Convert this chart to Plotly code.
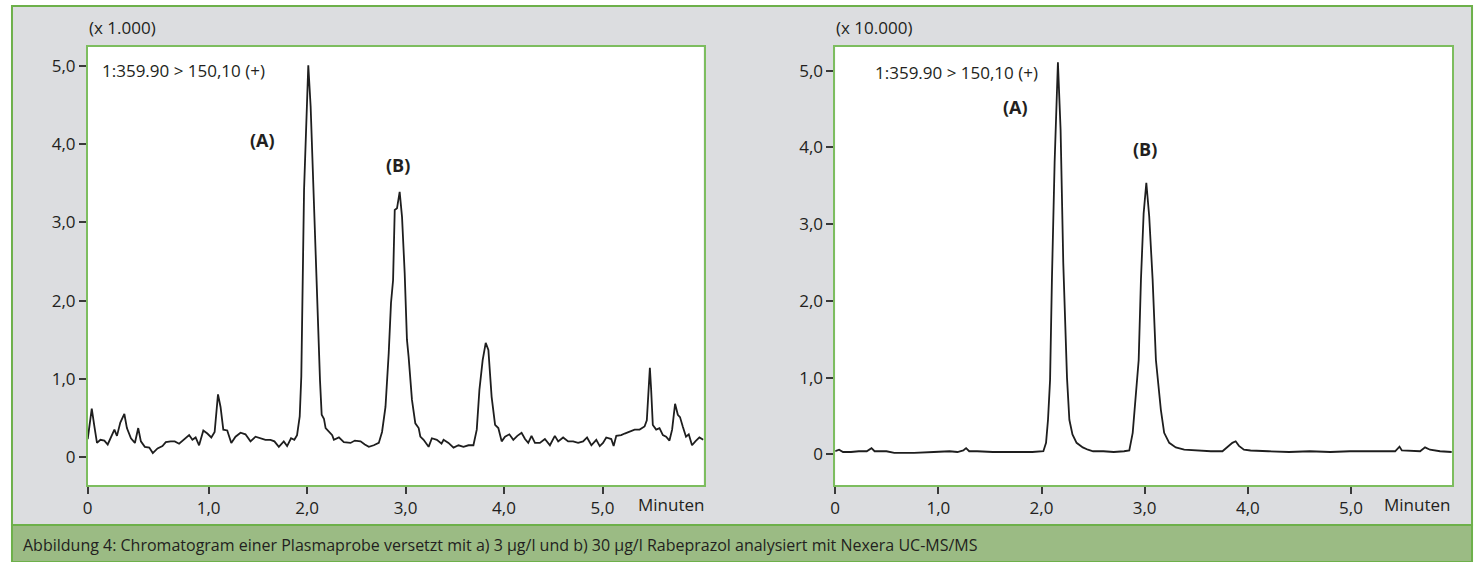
import plotly.graph_objects as go

# ---- data: chromatogram traces (time in minutes, signal in display units) ----
left_time = [
    -0.228, -0.187, -0.160, -0.134, -0.099, -0.059, -0.025, 0.002, 0.043, 0.069,
    0.103, 0.144, 0.170, 0.211, 0.251, 0.285, 0.312, 0.352, 0.397, 0.433,
    0.481, 0.531, 0.565, 0.615, 0.656, 0.700, 0.751, 0.802, 0.835, 0.868,
    0.903, 0.946, 0.987, 1.027, 1.061, 1.095, 1.121, 1.149, 1.189, 1.230,
    1.273, 1.324, 1.374, 1.425, 1.476, 1.526, 1.577, 1.628, 1.668, 1.713,
    1.763, 1.797, 1.837, 1.870, 1.898, 1.925, 1.941, 1.969, 2.012, 2.036,
    2.080, 2.103, 2.131, 2.148, 2.171, 2.188, 2.222, 2.255, 2.272, 2.323,
    2.373, 2.441, 2.485, 2.543, 2.586, 2.627, 2.677, 2.728, 2.761, 2.796,
    2.829, 2.852, 2.873, 2.890, 2.913, 2.940, 2.964, 2.991, 3.014, 3.031,
    3.065, 3.099, 3.133, 3.150, 3.183, 3.234, 3.267, 3.318, 3.365, 3.386,
    3.436, 3.487, 3.538, 3.588, 3.639, 3.689, 3.723, 3.750, 3.783, 3.814,
    3.841, 3.874, 3.909, 3.942, 3.976, 4.010, 4.054, 4.094, 4.135, 4.178,
    4.213, 4.246, 4.279, 4.314, 4.364, 4.415, 4.466, 4.516, 4.550, 4.600,
    4.651, 4.702, 4.752, 4.803, 4.843, 4.887, 4.937, 4.972, 5.005, 5.038,
    5.089, 5.113, 5.140, 5.190, 5.225, 5.275, 5.326, 5.377, 5.427, 5.450,
    5.471, 5.481, 5.494, 5.511, 5.545, 5.579, 5.613, 5.646, 5.680, 5.707,
    5.724, 5.737, 5.765, 5.787, 5.815, 5.848, 5.876, 5.909, 5.943, 5.984,
    6.024,
]
left_signal = [
    0.23, 0.62, 0.39, 0.18, 0.22, 0.21, 0.16, 0.23, 0.35, 0.27,
    0.44, 0.55, 0.37, 0.24, 0.18, 0.37, 0.20, 0.13, 0.12, 0.05,
    0.11, 0.14, 0.19, 0.20, 0.20, 0.17, 0.22, 0.28, 0.22, 0.25,
    0.15, 0.34, 0.30, 0.25, 0.32, 0.80, 0.64, 0.35, 0.34, 0.18,
    0.26, 0.31, 0.29, 0.20, 0.26, 0.24, 0.22, 0.22, 0.20, 0.13,
    0.20, 0.14, 0.24, 0.22, 0.28, 0.52, 1.03, 3.41, 5.01, 4.48,
    2.78, 1.92, 0.98, 0.54, 0.49, 0.37, 0.32, 0.28, 0.22, 0.25,
    0.19, 0.18, 0.21, 0.20, 0.16, 0.13, 0.15, 0.18, 0.32, 0.64,
    1.33, 1.97, 2.26, 3.16, 3.18, 3.39, 3.07, 2.35, 1.50, 1.28,
    0.73, 0.43, 0.37, 0.26, 0.22, 0.13, 0.24, 0.22, 0.17, 0.22,
    0.18, 0.12, 0.15, 0.13, 0.15, 0.15, 0.35, 0.86, 1.24, 1.46,
    1.37, 0.77, 0.41, 0.37, 0.20, 0.26, 0.29, 0.22, 0.27, 0.31,
    0.23, 0.18, 0.27, 0.18, 0.18, 0.23, 0.15, 0.27, 0.20, 0.25,
    0.20, 0.20, 0.18, 0.20, 0.25, 0.15, 0.22, 0.14, 0.18, 0.25,
    0.23, 0.14, 0.27, 0.28, 0.30, 0.32, 0.35, 0.35, 0.39, 0.47,
    0.86, 1.14, 0.86, 0.41, 0.35, 0.37, 0.28, 0.26, 0.21, 0.35,
    0.54, 0.68, 0.54, 0.51, 0.39, 0.26, 0.29, 0.15, 0.20, 0.25,
    0.22,
]

right_time = [
    0.000, 0.038, 0.076, 0.153, 0.229, 0.306, 0.352, 0.382, 0.439, 0.497,
    0.573, 0.764, 0.955, 1.108, 1.185, 1.242, 1.269, 1.299, 1.376, 1.528,
    1.720, 1.911, 2.018, 2.044, 2.063, 2.083, 2.101, 2.127, 2.159, 2.185,
    2.211, 2.247, 2.270, 2.300, 2.340, 2.400, 2.450, 2.500, 2.600, 2.700,
    2.800, 2.851, 2.884, 2.916, 2.942, 2.964, 2.990, 3.016, 3.044, 3.077,
    3.109, 3.157, 3.189, 3.238, 3.302, 3.383, 3.479, 3.641, 3.754, 3.802,
    3.850, 3.882, 3.914, 3.962, 4.027, 4.200, 4.400, 4.600, 4.800, 4.990,
    5.200, 5.428, 5.470, 5.493, 5.670, 5.718, 5.766, 5.863, 5.976,
]
right_signal = [
    0.04, 0.06, 0.03, 0.03, 0.04, 0.04, 0.08, 0.04, 0.04, 0.04,
    0.02, 0.02, 0.03, 0.04, 0.03, 0.05, 0.08, 0.04, 0.04, 0.03,
    0.03, 0.03, 0.04, 0.15, 0.45, 0.97, 2.28, 3.80, 5.11, 4.23,
    2.49, 1.00, 0.45, 0.26, 0.15, 0.09, 0.06, 0.04, 0.04, 0.03,
    0.04, 0.05, 0.28, 0.80, 1.23, 2.28, 3.14, 3.54, 3.10, 2.28,
    1.23, 0.58, 0.28, 0.15, 0.09, 0.06, 0.05, 0.04, 0.04, 0.09,
    0.15, 0.17, 0.11, 0.06, 0.05, 0.04, 0.03, 0.04, 0.03, 0.04,
    0.04, 0.04, 0.10, 0.05, 0.04, 0.09, 0.06, 0.04, 0.03,
]

y_ticks = [0, 1, 2, 3, 4, 5]
y_tick_text = ["0", "1,0", "2,0", "3,0", "4,0", "5,0"]
x_tick_text = ["0", "1,0", "2,0", "3,0", "4,0", "5,0"]
scale_labels = ["(x 1.000)", "(x 10.000)"]
transition_label = "1:359.90 > 150,10 (+)"
peak_labels = ["(A)", "(B)"]
x_unit = "Minuten"
caption = ("Abbildung 4: Chromatogram einer Plasmaprobe versetzt mit a) 3 µg/l und "
           "b) 30 µg/l Rabeprazol analysiert mit Nexera UC-MS/MS")

# ---- page geometry ----
W, H = 1480, 562
FONT = "Open Sans"
TXT = "#231f20"
GREEN = "#6db04a"
BOX_GREEN = "#7dbd5f"
PANEL_GRAY = "#dcdde0"
CAPTION_GREEN = "#9bbb84"


def px(x):
    return x / W


def py(y):
    return 1 - y / H


left_range = [-0.228, 6.027]
right_range = [0.0, 5.98]

fig = go.Figure()
fig.add_trace(go.Scatter(x=left_time, y=left_signal, mode="lines",
                         line=dict(color="#1e1e1e", width=1.8),
                         xaxis="x", yaxis="y", showlegend=False,
                         hoverinfo="skip"))
fig.add_trace(go.Scatter(x=right_time, y=right_signal, mode="lines",
                         line=dict(color="#1e1e1e", width=1.8),
                         xaxis="x2", yaxis="y2", showlegend=False,
                         hoverinfo="skip"))

axis_common = dict(showgrid=False, zeroline=False, showline=True, mirror=True,
                   linecolor=BOX_GREEN, linewidth=1.5, ticks="outside",
                   ticklen=7, tickwidth=1.5, tickcolor="#3a3a3a",
                   tickfont=dict(family=FONT, size=17, color=TXT), fixedrange=True)

y_dom = [py(485), py(47)]
fig.update_layout(
    width=W, height=H,
    margin=dict(l=0, r=0, t=0, b=0),
    paper_bgcolor="white",
    plot_bgcolor="rgba(0,0,0,0)",
    xaxis=dict(domain=[px(83), px(701)], range=left_range,
               tickvals=[left_range[0], 1, 2, 3, 4, 5], ticktext=x_tick_text,
               anchor="y", **axis_common),
    yaxis=dict(domain=y_dom, range=[-0.358, 5.243], tickvals=y_ticks,
               ticktext=y_tick_text, anchor="x", **axis_common),
    xaxis2=dict(domain=[px(833), px(1452)], range=right_range,
                tickvals=[0, 1, 2, 3, 4, 5], ticktext=x_tick_text,
                anchor="y2", **axis_common),
    yaxis2=dict(domain=y_dom, range=[-0.40, 5.31], tickvals=y_ticks,
                ticktext=y_tick_text, anchor="x2", **axis_common),
)

# frame, caption band and white plot boxes
shapes = [
    dict(type="rect", xref="paper", yref="paper", x0=px(7), x1=px(1472),
         y0=py(525), y1=py(6), fillcolor=PANEL_GRAY,
         line=dict(color=GREEN, width=2), layer="below"),
    dict(type="rect", xref="paper", yref="paper", x0=px(7), x1=px(1472),
         y0=py(562), y1=py(525), fillcolor=CAPTION_GREEN,
         line=dict(color=GREEN, width=2), layer="below"),
    dict(type="rect", xref="paper", yref="paper", x0=px(83), x1=px(701),
         y0=py(485), y1=py(47), fillcolor="white", line=dict(width=0),
         layer="below"),
    dict(type="rect", xref="paper", yref="paper", x0=px(833), x1=px(1452),
         y0=py(485), y1=py(47), fillcolor="white", line=dict(width=0),
         layer="below"),
]
fig.update_layout(shapes=shapes)


def note(text, x, y, anchor="left", size=17, bold=False, color=TXT):
    fig.add_annotation(text=f"<b>{text}</b>" if bold else text,
                       xref="paper", yref="paper", x=px(x), y=py(y),
                       xanchor=anchor, yanchor="middle", showarrow=False,
                       font=dict(family=FONT, size=size, color=color))


note(scale_labels[0], 82, 27)
note(scale_labels[1], 832, 27)
note(transition_label, 95, 70)
note(transition_label, 871, 72)
note(peak_labels[0], 258, 140, anchor="center", size=18, bold=True)
note(peak_labels[1], 394, 165, anchor="center", size=18, bold=True)
note(peak_labels[0], 1014, 107, anchor="center", size=18, bold=True)
note(peak_labels[1], 1144, 149, anchor="center", size=18, bold=True)
note(x_unit, 703, 504, anchor="right")
note(x_unit, 1452, 504, anchor="right")
note(caption, 16, 545, size=16)

fig.write_html("out.html")
